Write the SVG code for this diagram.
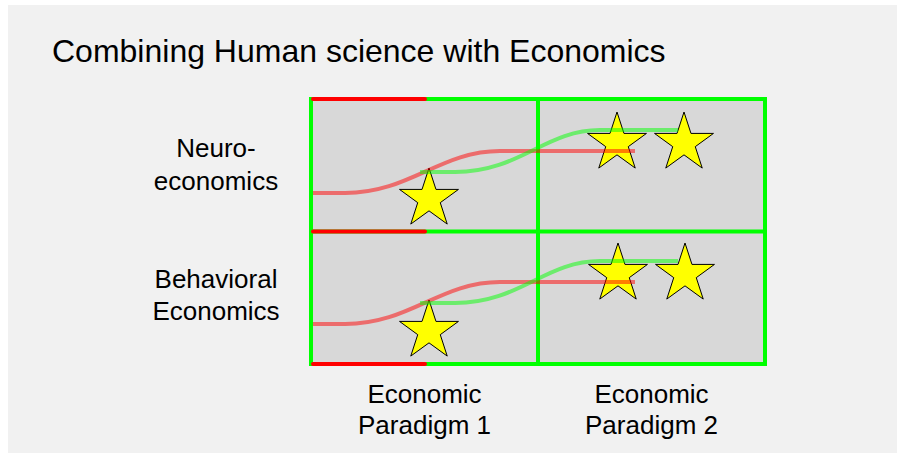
<svg xmlns="http://www.w3.org/2000/svg" xmlns:xlink="http://www.w3.org/1999/xlink" width="897" height="454" viewBox="0 0 897 454">
<style>
text{font-family:"Liberation Sans",Arial,sans-serif;fill:#000}
.lbl{font-size:26px;text-anchor:middle}
.title{font-size:32px}
.cell{fill:#d8d8d8}
.g{stroke:#00ff00;stroke-width:4;fill:none}
.r{stroke:#ff0000;stroke-width:4;fill:none;stroke-linecap:round}
.rc{stroke:#ff0000;stroke-opacity:0.5;stroke-width:4;fill:none}
.gc{stroke:#00ff00;stroke-opacity:0.5;stroke-width:4;fill:none}
.star{fill:#ffff00;stroke:#000;stroke-width:1}
</style>
<defs>
<path id="star" d="M0,-31 L6.97,-9.59 L29.48,-9.58 L11.27,3.66 L18.22,25.08 L0,11.85 L-18.22,25.08 L-11.27,3.66 L-29.48,-9.58 L-6.97,-9.59 Z"/>
</defs>
<rect x="0" y="0" width="897" height="454" fill="#ffffff"/>
<rect x="8" y="5" width="889" height="448" fill="#f1f1f1"/>
<g id="title"><text class="title" x="52" y="62">Combining Human science with Economics</text></g>
<g id="row-neuro"><text class="lbl" x="216" y="157">Neuro-</text><text class="lbl" x="216" y="190">economics</text></g>
<g id="row-behavioral"><text class="lbl" x="216" y="288">Behavioral</text><text class="lbl" x="216" y="320">Economics</text></g>
<g id="col-1"><text class="lbl" x="424.5" y="403">Economic</text><text class="lbl" x="424.5" y="434">Paradigm 1</text></g>
<g id="col-2"><text class="lbl" x="651.5" y="403">Economic</text><text class="lbl" x="651.5" y="434">Paradigm 2</text></g>
<g id="grid">
<rect class="cell" x="311" y="99" width="454" height="265"/>
<path class="g" d="M311,99 H765 V364 H311 Z M538,99 V364 M311,231.5 H765"/>
<path class="r" d="M313,99 H425 M313,231.5 H425 M313,364 H425"/>
</g>
<g id="stars">
<use xlink:href="#star" class="star" transform="translate(429,199)"/>
<use xlink:href="#star" class="star" transform="translate(617,143)"/>
<use xlink:href="#star" class="star" transform="translate(684,143)"/>
<use xlink:href="#star" class="star" transform="translate(429,331)"/>
<use xlink:href="#star" class="star" transform="translate(618,274)"/>
<use xlink:href="#star" class="star" transform="translate(685,274)"/>
</g>
<g id="connectors">
<path class="rc" d="M313,193 L345,193 C410,193 440,151 500,151 L635,151"/>
<path class="gc" d="M420,172 L455,172 C520,172 545,130 600,130 L678,130"/>
<path class="rc" d="M313,324 L345,324 C410,324 440,282 500,282 L635,282"/>
<path class="gc" d="M420,303 L455,303 C520,303 545,261 600,261 L678,261"/>
</g>
</svg>
